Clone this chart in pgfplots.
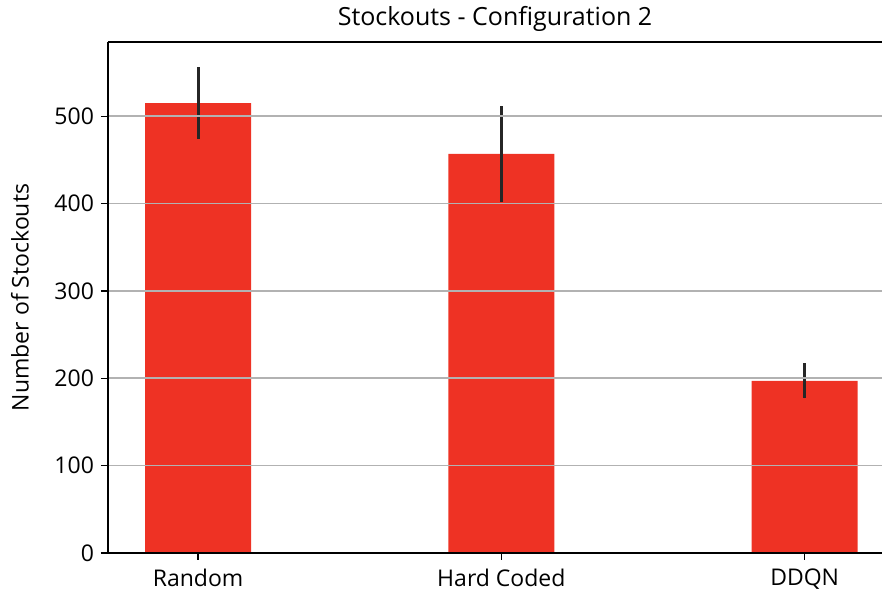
\documentclass[border=0pt]{standalone}
\usepackage{pgfplots}
\pgfplotsset{compat=1.18}
\usetikzlibrary{calc}
\usepackage{fontspec}
\setmainfont{Open Sans}
\definecolor{barred}{HTML}{EE3224}
\begin{document}
\begin{tikzpicture}
\begin{axis}[
  scale only axis,
  width=387pt, height=255.5pt,
  xmin=-0.297, xmax=2.255,
  ymin=0, ymax=585,
  axis x line=box, axis y line*=left,
  xtick={0,1,2},
  xticklabels={Random,Hard Coded,DDQN},
  ytick={0,100,200,300,400,500},
  tick align=outside,
  xtick pos=bottom, ytick pos=left,
  major tick length=3.5pt,
  tick style={black, line width=0.6pt},
  ymajorgrids,
  grid style={color=black!30, line width=0.8pt},
  axis on top,
  axis line style={line width=0.7pt},
  /pgf/number format/assume math mode=true,
  ticklabel style={font=\fontsize{11.5}{13}\selectfont},
  xticklabel style={yshift=-1pt},
  ylabel={Number of Stockouts},
  ylabel style={font=\fontsize{11.5}{13}\selectfont, yshift=6pt},
  title={Stockouts - Configuration 2},
  title style={font=\fontsize{12.5}{14}\selectfont, yshift=-4.5pt},
]
\addplot[ybar, bar width=0.35, fill=barred, draw=none,
  error bars/.cd, y dir=both, y explicit, error mark=none,
  error bar style={line width=1.5pt, black!85}]
  coordinates {
    (0,515) +- (0,41)
    (1,457) +- (0,55)
    (2,197) +- (0,20)
  };
\end{axis}
\pgfresetboundingbox
\path[use as bounding box] ($(current axis.south west)+(-54pt,-21pt)$) rectangle ($(current axis.north east)+(1.5pt,21pt)$);
\end{tikzpicture}
\end{document}
